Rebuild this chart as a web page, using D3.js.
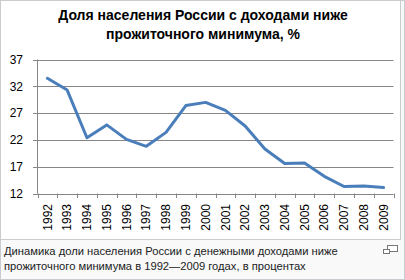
<!DOCTYPE html>
<html>
<head>
<meta charset="utf-8">
<script src="https://cdn.jsdelivr.net/npm/d3@7"></script>
<style>
  body { margin: 0; background: #fff; }
  svg { display: block; font-family: "Liberation Sans", Arial, sans-serif; }
</style>
</head>
<body>
<svg id="svg1" width="405" height="280"></svg>
<script>
// data
var years = ['1992','1993','1994','1995','1996','1997','1998','1999','2000',
             '2001','2002','2003','2004','2005','2006','2007','2008','2009'];
var poverty = [33.5, 31.3, 22.4, 24.8, 22.1, 20.8, 23.4, 28.4, 29.0,
               27.5, 24.6, 20.3, 17.6, 17.7, 15.2, 13.3, 13.4, 13.1];
var yTicks = [12, 17, 22, 27, 32, 37];
var titleLines = ['Доля населения России с доходами ниже', 'прожиточного минимума, %'];
var captionLines = ['Динамика доли населения России с денежными доходами ниже',
                    'прожиточного минимума в 1992—2009 годах, в процентах'];

var svg = d3.select('svg');

// outer frame + caption area
svg.append('rect')
    .attr('x', 0.5).attr('y', 0.5)
    .attr('width', 404).attr('height', 279)
    .attr('fill', '#f9f9f9')
    .attr('stroke', '#c8ccd1');

// image box
svg.append('rect')
    .attr('x', 0.5).attr('y', 0.5)
    .attr('width', 400).attr('height', 239)
    .attr('fill', '#fff')
    .attr('stroke', '#cccccc');

var x = d3.scaleBand()
    .domain(years)
    .range([37.5, 393.5]);

var y = d3.scaleLinear()
    .domain([12, 37])
    .range([193.5, 59.5]);

// gridlines
svg.append('g')
    .selectAll('line')
    .data(yTicks)
    .enter()
    .append('line')
    .attr('x1', 33)
    .attr('x2', 393.5)
    .attr('y1', function(d){ return Math.round(y(d)) + 0.5; })
    .attr('y2', function(d){ return Math.round(y(d)) + 0.5; })
    .attr('stroke', '#868686')
    .attr('stroke-width', 1);

// y axis line
svg.append('line')
    .attr('x1', 37.5).attr('x2', 37.5)
    .attr('y1', 59.5).attr('y2', 193.5)
    .attr('stroke', '#868686');

// x tick marks at band edges
var edges = years.map(function(d){ return x(d); }).concat([x.range()[1]]);
svg.append('g')
    .selectAll('line')
    .data(edges)
    .enter()
    .append('line')
    .attr('x1', function(d){ return Math.round(d) + 0.5; })
    .attr('x2', function(d){ return Math.round(d) + 0.5; })
    .attr('y1', 193.5)
    .attr('y2', 198)
    .attr('stroke', '#868686');

// y labels
svg.append('g')
    .selectAll('text')
    .data(yTicks)
    .enter()
    .append('text')
    .attr('x', 23)
    .attr('y', function(d){ return y(d); })
    .attr('dy', '0.35em')
    .attr('text-anchor', 'end')
    .attr('font-size', 12)
    .attr('fill', '#000')
    .text(function(d){ return d; });

// x labels (rotated)
svg.append('g')
    .selectAll('text')
    .data(years)
    .enter()
    .append('text')
    .attr('transform', function(d){
        return 'translate(' + (x(d) + x.bandwidth() / 2) + ',204) rotate(-90)';
    })
    .attr('dy', '0.35em')
    .attr('text-anchor', 'end')
    .attr('font-size', 12)
    .attr('fill', '#000')
    .text(function(d){ return d; });

// the line
var line = d3.line()
    .x(function(d, i){ return x(years[i]) + x.bandwidth() / 2; })
    .y(function(d){ return y(d); });

svg.append('path')
    .datum(poverty)
    .attr('d', line)
    .attr('fill', 'none')
    .attr('stroke', '#4a7ebb')
    .attr('stroke-width', 3)
    .attr('stroke-linejoin', 'round')
    .attr('stroke-linecap', 'round');

// title
svg.append('g')
    .selectAll('text')
    .data(titleLines)
    .enter()
    .append('text')
    .attr('x', 203)
    .attr('y', function(d, i){ return 20 + i * 19; })
    .attr('text-anchor', 'middle')
    .attr('font-size', 14)
    .attr('font-weight', 'bold')
    .attr('fill', '#000')
    .text(function(d){ return d; });

// caption
svg.append('g')
    .selectAll('text')
    .data(captionLines)
    .enter()
    .append('text')
    .attr('x', 4)
    .attr('y', function(d, i){ return 255 + i * 15; })
    .attr('font-size', 11.2)
    .attr('fill', '#202122')
    .text(function(d){ return d; });

// enlarge icon
var icon = svg.append('g')
    .attr('fill', '#fff')
    .attr('stroke', '#777')
    .attr('stroke-width', 1);
icon.append('rect').attr('x', 387.5).attr('y', 245.5).attr('width', 10).attr('height', 6);
icon.append('rect').attr('x', 383.5).attr('y', 249.5).attr('width', 6).attr('height', 4);
</script>
</body>
</html>
